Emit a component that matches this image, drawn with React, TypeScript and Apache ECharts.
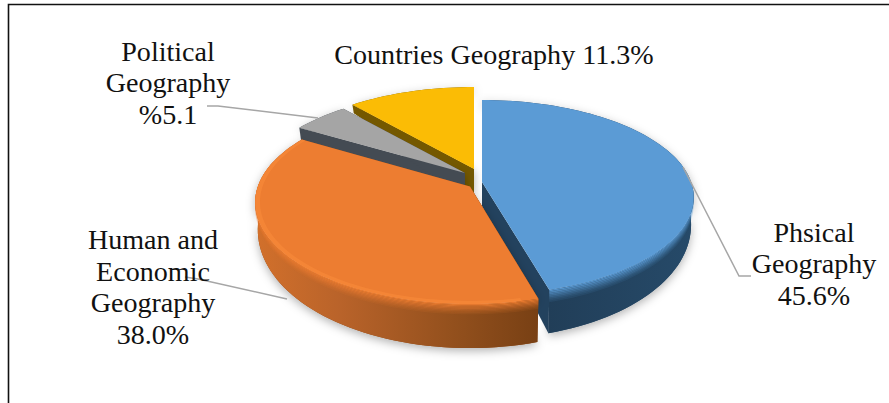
import React, { useEffect, useRef } from "react";
import * as echarts from "echarts";

// Share of each branch, in percent, starting at 12 o'clock and running clockwise.
const sliceNames = ["Physical", "Human", "Political", "Countries"];
const sliceValues = [45.6, 38.0, 5.1, 11.3];
const labelTexts = [
  "Phsical\nGeography\n45.6%",
  "Human and\nEconomic\nGeography\n38.0%",
  "Political\nGeography\n%5.1",
  "Countries Geography 11.3%",
];

const FONT = '"Liberation Serif", serif';

// Per-slice appearance; slices are painted back to front through paintOrder.
const sliceStyles = [
  { top: "#5B9BD5", wall: ["#264A69", "#213E58"], cut: "#23425E", apex: [482, 182], sx: 1, sy: 1 },
  { top: "#ED7D31", wall: ["#C96A2A", "#7C4216"], cut: "#8A4A1A", apex: [470, 186.5], sx: 1.015, sy: 1.04 },
  { top: "#A5A5A5", wall: ["#444B53", "#444B53"], cut: "#444B53", apex: [465, 173], sx: 1, sy: 1 },
  { top: "#FBBC05", wall: ["#7A5C00", "#7A5C00"], cut: "#745800", apex: [474, 169], sx: 1, sy: 1 },
];
const paintOrder = [3, 2, 0, 1];

const labelBoxes = [
  { x: 814, y: 264, leader: [[751, 276], [739, 276], [683, 167]] },
  { x: 153, y: 287, leader: [[185, 277], [198, 279], [287, 299]] },
  { x: 168, y: 83, leader: [[207, 106], [218, 106], [318, 118]] },
  { x: 494, y: 55, leader: null as null | number[][] },
];

// Perspective projection of the tilted disc.
const PERSPECTIVE = 0.159;
const RX = 209;
const RY = 95;
const project = (index: number, u: number, v: number, r = 1) => {
  const s = sliceStyles[index];
  const d = 1 - PERSPECTIVE * v * r;
  return [s.apex[0] + (RX * s.sx * u * r) / d, s.apex[1] + (RY * s.sy * v * r) / d];
};
const depth = (v: number) => 24 + 22 * v;
const polar = (deg: number) => {
  const a = (deg * Math.PI) / 180;
  return [Math.sin(a), -Math.cos(a)];
};

const arcPoints = (index: number, a0: number, a1: number, r = 1, drop = 0) => {
  const pts: number[][] = [];
  const steps = Math.max(4, Math.ceil((a1 - a0) / 2));
  for (let i = 0; i <= steps; i++) {
    const [u, v] = polar(a0 + ((a1 - a0) * i) / steps);
    const p = project(index, u, v, r);
    pts.push([p[0], p[1] + drop * depth(v * r)]);
  }
  return pts;
};

// Colour ramp of the curved wall, per slice that shows one.
const wallRamp = (index: number) =>
  index === 1
    ? [
        { offset: 0, color: "#D2702B" },
        { offset: 0.3, color: "#B9632A" },
        { offset: 0.7, color: "#93501D" },
        { offset: 1, color: "#784014" },
      ]
    : [
        { offset: 0, color: sliceStyles[index].wall[1] },
        { offset: 1, color: sliceStyles[index].wall[0] },
      ];

function sliceChildren(index: number, a0: number, a1: number) {
  const s = sliceStyles[index];
  const apex = s.apex;
  const children: any[] = [];
  const poly = (points: number[][], style: any) =>
    children.push({ type: "polygon", shape: { points }, style, silent: true });

  const top = [apex, ...arcPoints(index, a0, a1)];

  // Extruded body: outline of the top face and its lowered copy, with a soft ground shadow.
  const lowered = arcPoints(index, a0, a1, 0.988, 1);
  const apexLow = [apex[0], apex[1] + depth(0)];
  poly([apex, ...arcPoints(index, a0, a1), ...lowered.slice().reverse(), apexLow], {
    fill: s.cut,
    shadowBlur: 10,
    shadowColor: "rgba(0,0,0,0.3)",
    shadowOffsetY: 3,
  });

  // Cut faces along both straight edges.
  const [ua, va] = polar(a0);
  const [ub, vb] = polar(a1);
  const pa = project(index, ua, va);
  const pb = project(index, ub, vb);
  poly([apex, pa, lowered[0], apexLow], { fill: s.cut });
  poly([apex, pb, lowered[lowered.length - 1], apexLow], { fill: s.cut });

  // Curved outer wall, where the rim faces the viewer.
  if (index < 2) {
    const from = index === 0 ? 70 : a0;
    const to = index === 0 ? a1 : 285;
    const front = arcPoints(index, from, to);
    const back = arcPoints(index, from, to, 0.988, 1);
    poly([...front, ...back.slice().reverse()], {
      fill: new echarts.graphic.LinearGradient(0, 0, 1, 0, wallRamp(index)),
    });

    // Rounded bevel: top colour fading down the wall.
    const fades = [0.9, 0.78, 0.65, 0.52, 0.4, 0.28, 0.18, 0.1];
    const stepH = index === 0 ? 0.034 : 0.028;
    fades.forEach((o, i) => {
      const upper = arcPoints(index, from, to, 1, i * stepH);
      const lower = arcPoints(index, from, to, 1, (i + 1) * stepH);
      poly([...upper, ...lower.slice().reverse()], { fill: s.top, opacity: o });
    });
  }

  poly(top, { fill: s.top });

  // Highlight just inside the rim on the front slice.
  if (index === 1) {
    const o = arcPoints(index, a0 + 4, a1);
    const i = arcPoints(index, a0 + 4, a1, 0.978);
    poly([...o, ...i.slice().reverse()], { fill: "#F98B3A", opacity: 0.6 });
  }
  return children;
}

function labelChildren(index: number) {
  const box = labelBoxes[index];
  const children: any[] = [];
  if (box.leader) {
    children.push({
      type: "polyline",
      shape: { points: box.leader },
      style: { stroke: "#A6A6A6", lineWidth: 1.5, fill: "none" },
      silent: true,
    });
  }
  children.push({
    type: "text",
    x: box.x,
    y: box.y,
    scaleX: 1.04,
    style: {
      text: labelTexts[index],
      font: `27px ${FONT}`,
      fill: "#111111",
      align: "center",
      verticalAlign: "middle",
      lineHeight: 31.5,
    },
    silent: true,
  });
  return children;
}

export default function App() {
  const ref = useRef<HTMLDivElement>(null);
  useEffect(() => {
    const chart = echarts.init(ref.current!, undefined, { renderer: "svg" });
    const total = sliceValues.reduce((a, b) => a + b, 0);
    const angles: number[][] = [];
    let run = 0;
    sliceValues.forEach((v) => {
      const a0 = (run / total) * 360;
      run += v;
      angles.push([a0, (run / total) * 360]);
    });
    chart.setOption({
      animation: false,
      backgroundColor: "#FFFFFF",
      tooltip: { show: false },
      graphic: [
        {
          type: "polyline",
          shape: { points: [[8.5, 403], [8.5, 4.5], [889, 4.5]] },
          style: { stroke: "#111111", lineWidth: 1.6, fill: "none" },
          silent: true,
        },
      ],
      series: [
        {
          type: "custom",
          coordinateSystem: "none",
          silent: true,
          data: paintOrder.map((i) => ({ name: sliceNames[i], value: [sliceValues[i], i] })),
          renderItem: (_p: any, api: any) => {
            const i = api.value(1);
            return {
              type: "group",
              children: sliceChildren(i, angles[i][0], angles[i][1]),
            };
          },
          z: 1,
        },
        {
          type: "custom",
          coordinateSystem: "none",
          silent: true,
          data: labelTexts.map((_, i) => [i]),
          renderItem: (_p: any, api: any) => ({
            type: "group",
            children: labelChildren(api.value(0)),
          }),
          z: 2,
        },
      ],
    });
    return () => chart.dispose();
  }, []);
  return (
    <div style={{ position: "fixed", left: 0, top: 0, width: 889, height: 403 }}>
      <div ref={ref} style={{ width: 889, height: 403 }} />
    </div>
  );
}
